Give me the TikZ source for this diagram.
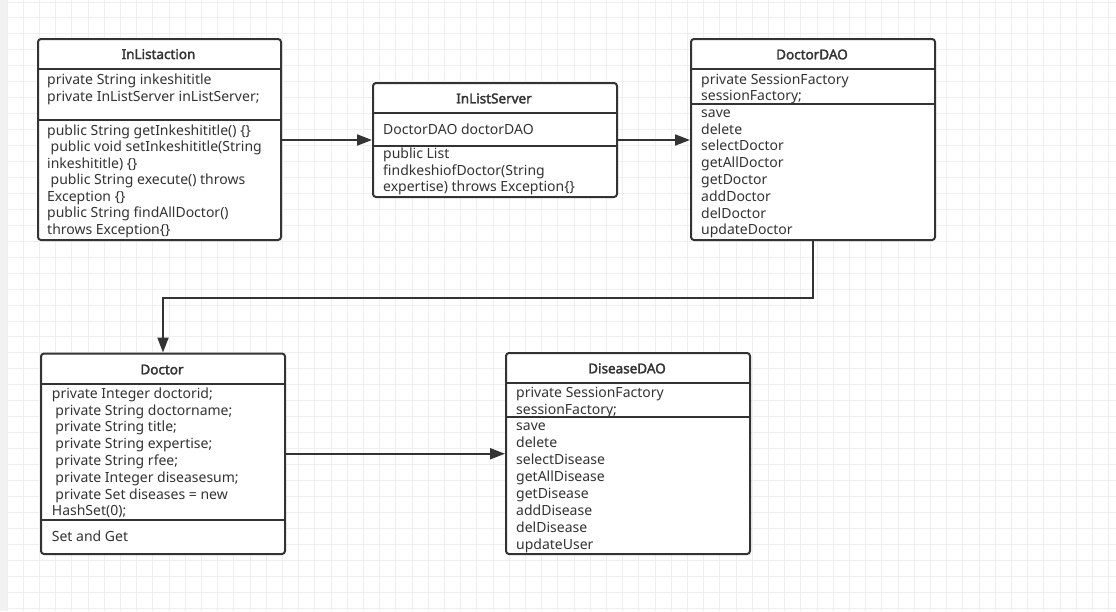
\documentclass[tikz,border=0pt]{standalone}
\usepackage{fontspec}
\setmainfont{Noto Sans}
\newfontfamily\classtitlefont{Noto Sans}[FakeBold=2.2]
\usetikzlibrary{arrows.meta,calc}
\definecolor{ink}{HTML}{333333}
\definecolor{gridc}{HTML}{EFEFEF}
\definecolor{stripc}{HTML}{F2F2F2}
\begin{document}
\begin{tikzpicture}[x=1pt,y=-1pt,
  classbox/.style={draw=ink, line width=2pt, rounded corners=3pt, fill=white, inner sep=0pt, anchor=north west},
  sepline/.style={draw=ink, line width=2pt},
  titletext/.style={font=\classtitlefont\fontsize{13.5}{16}\selectfont, text=ink, anchor=base, inner sep=0pt},
  txt/.style={font=\fontsize{14}{16.5}\selectfont, text=ink, anchor=base west, inner sep=0pt},
  link/.style={draw=ink, line width=2pt, -{Triangle[length=15pt,width=11pt]}}
]
\useasboundingbox (0,0) rectangle (1116,611);
% background grid
\fill[white] (0,0) rectangle (1116,611);
\fill[stripc] (0,0) rectangle (7,611);
\foreach \k in {0,...,68} \draw[gridc, line width=1pt] ({7+16.2*\k},0) -- ({7+16.2*\k},611);
\foreach \k in {0,...,38} \draw[gridc, line width=1pt] (7,{2+15.95*\k}) -- (1116,{2+15.95*\k});

% ---------- InListaction ----------
\node[classbox, minimum width=243pt, minimum height=201pt] (ia) at (37,38) {};
\draw[sepline] (37,69) -- (280,69);
\draw[sepline] (37,120) -- (280,120);
\node[titletext] (ia-t) at (158.5,59) {InListaction};
\foreach \t [count=\i from 0] in {private String inkeshititle, private InListServer inListServer;}
  \node[txt] (ia-a\i) at (47,{84.3+16.8*\i}) {\t};
\foreach \t [count=\i from 0] in {public String getInkeshititle() \{\}, \hspace{3.5pt}public void setInkeshititle(String, inkeshititle) \{\}, \hspace{3.5pt}public String execute() throws, Exception \{\}, public String findAllDoctor(), throws Exception\{\}}
  \node[txt] (ia-m\i) at (47,{135+16.55*\i}) {\t};

% ---------- InListServer ----------
\node[classbox, minimum width=244pt, minimum height=114pt] (is) at (372,82) {};
\draw[sepline] (372,113.3) -- (616,113.3);
\draw[sepline] (372,145.7) -- (616,145.7);
\node[titletext] (is-t) at (494,103.3) {InListServer};
\node[txt] (is-a0) at (383,134.5) {DoctorDAO doctorDAO};
\foreach \t [count=\i from 0] in {public List, findkeshiofDoctor(String, expertise) throws Exception\{\}}
  \node[txt] (is-m\i) at (383,{158.3+16.7*\i}) {\t};

% ---------- DoctorDAO ----------
\node[classbox, minimum width=244pt, minimum height=201pt] (dd) at (690,38) {};
\draw[sepline] (690,69.3) -- (934,69.3);
\draw[sepline] (690,104) -- (934,104);
\node[titletext] (dd-t) at (812,59.3) {DoctorDAO};
\foreach \t [count=\i from 0] in {private SessionFactory, sessionFactory;}
  \node[txt] (dd-a\i) at (701,{84.3+16.2*\i}) {\t};
\foreach \t [count=\i from 0] in {save, delete, selectDoctor, getAllDoctor, getDoctor, addDoctor, delDoctor, updateDoctor}
  \node[txt] (dd-m\i) at (701,{117.3+16.8*\i}) {\t};

% ---------- Doctor ----------
\node[classbox, minimum width=244pt, minimum height=200.5pt] (doc) at (40,352.5) {};
\draw[sepline] (40,384.3) -- (284,384.3);
\draw[sepline] (40,520) -- (284,520);
\node[titletext] (doc-t) at (162,374.3) {Doctor};
\foreach \t [count=\i from 0] in {private Integer doctorid;, \hspace{3.5pt}private String doctorname;, \hspace{3.5pt}private String title;, \hspace{3.5pt}private String expertise;, \hspace{3.5pt}private String rfee;, \hspace{3.5pt}private Integer diseasesum;, \hspace{3.5pt}private Set diseases = new, HashSet(0);}
  \node[txt] (doc-a\i) at (51.7,{398.3+16.8*\i}) {\t};
\node[txt] (doc-m0) at (51.7,541.7) {Set and Get};

% ---------- DiseaseDAO ----------
\node[classbox, minimum width=244pt, minimum height=201pt] (dis) at (505,352) {};
\draw[sepline] (505,383.3) -- (749,383.3);
\draw[sepline] (505,416.7) -- (749,416.7);
\node[titletext] (dis-t) at (627,373.3) {DiseaseDAO};
\foreach \t [count=\i from 0] in {private SessionFactory, sessionFactory;}
  \node[txt] (dis-a\i) at (516,{397.7+16.3*\i}) {\t};
\foreach \t [count=\i from 0] in {save, delete, selectDisease, getAllDisease, getDisease, addDisease, delDisease, updateUser}
  \node[txt] (dis-m\i) at (516,{430+17*\i}) {\t};

% ---------- connectors ----------
\draw[link] (ia.east |- is.west) -- (is.west);
\draw[link] (is.east) -- (is.east -| dd.west);
\draw[link] (dd.south) -- ++(0,57) -| (doc.north);
\draw[link] (doc.east) -- (doc.east -| dis.west);
\end{tikzpicture}
\end{document}
